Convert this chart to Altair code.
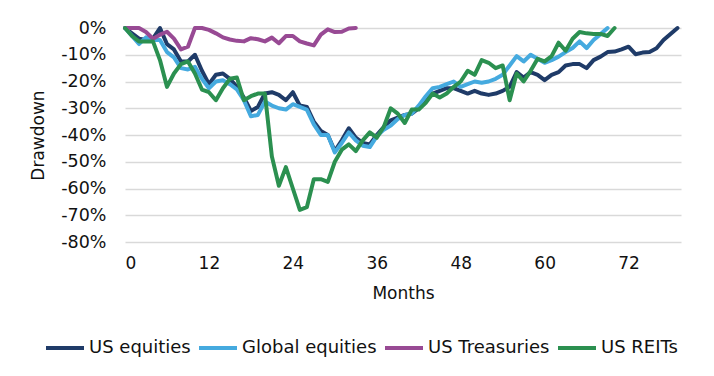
import altair as alt
import pandas as pd

series_names = ["US equities", "Global equities", "US Treasuries", "US REITs"]
series_colors = ["#1f3b68", "#45aadf", "#984a94", "#2b9050"]

us_equities = [0, -2, -4, -4.5, -4, 0, -6, -8, -12.5, -12.5,
               -10, -16, -21, -17.5, -17, -19, -22, -26, -31, -29.5,
               -24.5, -24, -25, -27, -24, -29, -29.5, -35, -38.5, -40,
               -46, -42, -37.5, -41, -43, -43.5, -40, -37, -34.5, -33.5,
               -32.5, -32, -30, -27, -24.5, -23.5, -22.5, -22.5, -23.5, -24.5,
               -23.5, -24.5, -25, -24.5, -23.5, -22, -16.5, -18.5, -16.5, -17.5,
               -19.5, -17.5, -16.5, -14, -13.5, -13.5, -15, -12, -10.7, -9,
               -8.8, -8, -7, -9.8, -9.2, -9, -7.6, -4.5, -2.2, 0]

global_equities = [0, -3, -6, -3.5, -4.5, -4.5, -9, -11, -15, -15.5,
                   -14.5, -19, -22.5, -20, -19.5, -21, -23, -27, -33, -32.5,
                   -27.5, -29, -30, -30.5, -28.5, -29.5, -30.5, -36, -40, -40,
                   -46.5, -43, -39, -42, -44, -44.5, -40.5, -38, -36.5, -34,
                   -32.5, -32, -29, -25.5, -22.5, -22, -21, -20, -22, -21,
                   -20, -20.5, -20, -19, -17.5, -14, -10.5, -12.5, -10, -11.5,
                   -13, -12, -10.7, -9, -7.5, -5, -7.5, -4.5, -2.3, 0]

us_treasuries = [0, 0, 0, -1.5, -4, -2.5, -1.4, -4, -8, -7,
                 0, 0, -0.7, -2, -3.5, -4.3, -4.8, -5, -3.8, -4.2,
                 -5, -3.6, -5.7, -3, -3, -5, -5.8, -6.5, -2.5, -0.5,
                 -1.5, -1.4, -0.2, 0]

us_reits = [0, -3, -5, -5, -5, -12, -22, -17, -13.5, -12.5,
            -17, -23, -24, -27, -22.5, -19, -18.5, -27, -25.5, -24.5,
            -24.5, -48, -59, -52, -60, -68, -67, -56.5, -56.5, -57.5,
            -50, -45.5, -43.5, -46, -42, -39, -41, -37, -30, -32,
            -35.5, -30.5, -30.5, -28, -24.5, -26, -24.5, -22, -20, -16,
            -17.5, -12, -13, -15, -14, -27, -17, -20, -16, -11.5,
            -12.5, -10.5, -5.5, -8.5, -4, -1.5, -2, -2.2, -2.2, -3, 0]

x_ticks = [0, 12, 24, 36, 48, 60, 72]
y_ticks = [0, -10, -20, -30, -40, -50, -60, -70, -80]

rows = []
for name, vals in zip(series_names, [us_equities, global_equities, us_treasuries, us_reits]):
    for m, v in enumerate(vals):
        rows.append({"Month": m, "Drawdown": v, "Series": name})
df = pd.DataFrame(rows)

FONT = "DejaVu Sans"

chart = alt.Chart(df).mark_line(strokeWidth=4, strokeJoin="round", strokeCap="round").encode(
    x=alt.X("Month:Q",
            scale=alt.Scale(domain=[0, 79.5], nice=False, zero=False),
            axis=alt.Axis(values=x_ticks, title="Months", grid=False, domain=False, ticks=False,
                          labelPadding=13, labelFontSize=17, titleFontSize=17,
                          titleFontWeight="normal", titleY=51, titleBaseline="middle")),
    y=alt.Y("Drawdown:Q",
            scale=alt.Scale(domain=[-80, 0], nice=False, zero=False),
            axis=alt.Axis(values=y_ticks, title="Drawdown", grid=True, gridColor="#d9d9d9",
                          gridWidth=1.6, domain=False, ticks=False, labelPadding=19,
                          labelFontSize=17.5, titleFontSize=17, titleFontWeight="normal",
                          labelExpr="datum.value + '%'", titleX=-87, titleY=107,
                          titleBaseline="middle", titleAngle=270, titleAlign="center")),
    color=alt.Color("Series:N",
                    scale=alt.Scale(domain=series_names, range=series_colors),
                    legend=alt.Legend(orient="none", legendX=-81, legendY=299, direction="horizontal",
                                      columns=4, title=None, symbolType="stroke", symbolSize=1444,
                                      symbolStrokeWidth=4, labelFontSize=18, labelOffset=3,
                                      columnPadding=0, labelColor="#111111")),
).properties(
    width=556,
    height=214,
    autosize=alt.AutoSizeParams(type="none"),
    padding={"left": 125, "top": 28, "right": 33, "bottom": 134},
).configure_view(stroke=None).configure_axis(
    labelFont=FONT, titleFont=FONT, labelColor="#111111", titleColor="#111111"
).configure_legend(labelFont=FONT)

chart.save("out.html", embed_options={"renderer": "svg", "actions": False})
